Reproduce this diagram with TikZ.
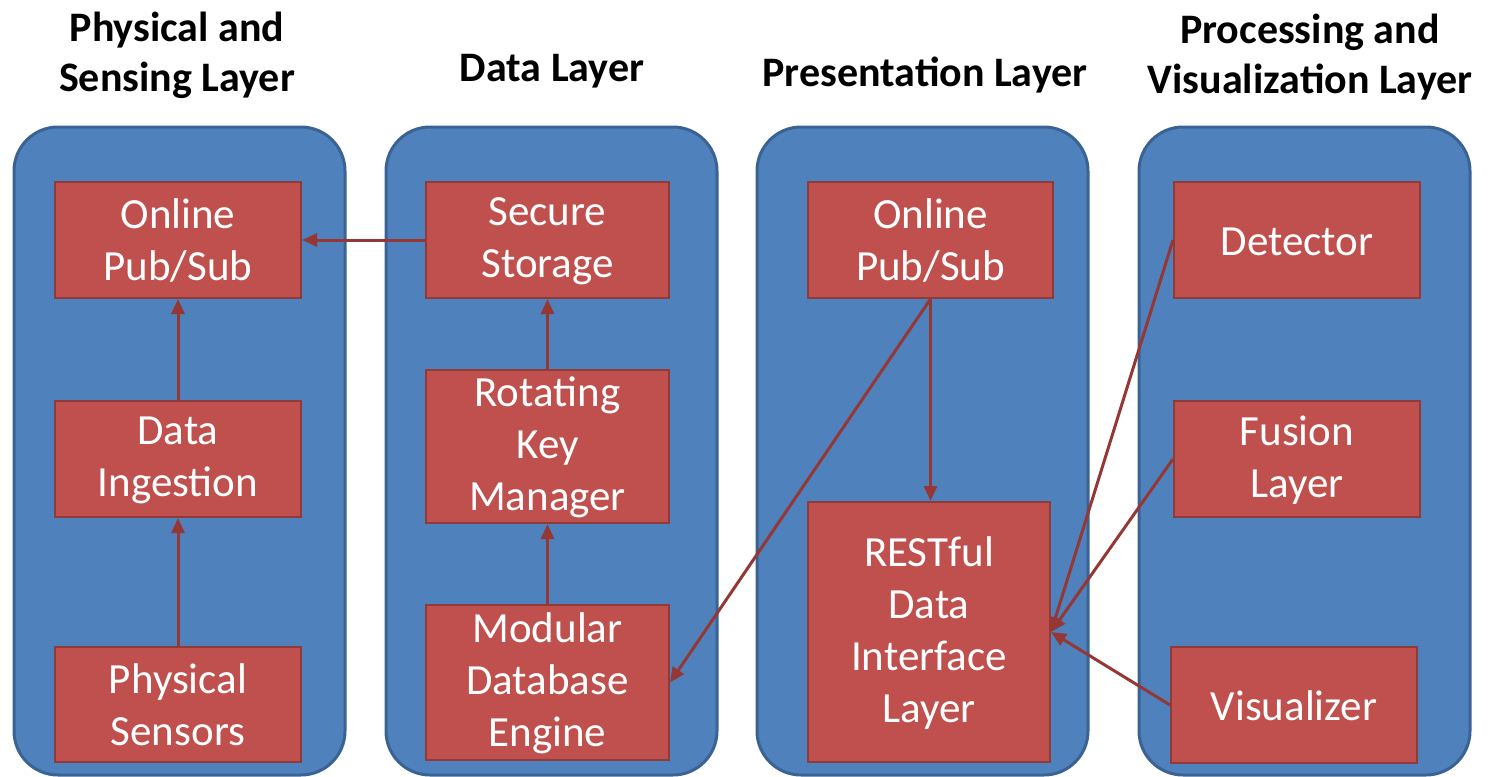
\documentclass[tikz,border=0pt]{standalone}
\usepackage{fontspec}
\setmainfont{Carlito}
\usetikzlibrary{arrows.meta}
\definecolor{colblue}{HTML}{4F81BD}
\definecolor{colblueedge}{HTML}{3A6394}
\definecolor{boxred}{HTML}{C0504D}
\definecolor{boxrededge}{HTML}{8E3B39}
\definecolor{arrowred}{HTML}{953735}
\newcommand\tallstrut{\rule{0pt}{0.72em}}
\tikzset{
  layer/.style={fill=colblue, draw=colblueedge, line width=1.5pt, rounded corners=22pt},
  comp/.style={fill=boxred, draw=boxrededge, line width=1pt, text=white, align=center,
    font=\fontsize{21.5}{26}\selectfont, inner sep=0pt},
  title/.style={align=center, font=\bfseries\fontsize{21}{25}\selectfont, inner sep=0pt},
  flow/.style={draw=arrowred, line width=1.5pt, -{Triangle[length=7.5pt,width=6.5pt]}},
}
\begin{document}
\begin{tikzpicture}[x=0.5pt,y=-0.5pt]
\useasboundingbox (0,0) rectangle (1490,777);
% layer panels
\draw[layer] (14,127) rectangle (345,775);
\draw[layer] (386,127) rectangle (717,775);
\draw[layer] (757,127) rectangle (1088,775);
\draw[layer] (1139,127) rectangle (1470,775);
% titles
\node[title] (t1) at (177,55) {Physical and\\Sensing Layer};
\node[title] (t2) at (552,71) {Data Layer};
\node[title] (t3) at (925,75) {Presentation Layer};
\node[title] (t4) at (1310,57) {Processing and\\Visualization Layer};
% components
\node[comp, minimum width=123pt, minimum height=58pt] (ps1) at (178,240) {\tallstrut Online\\Pub/Sub};
\node[comp, minimum width=123pt, minimum height=58pt] (di) at (178,459) {\tallstrut Data\\Ingestion};
\node[comp, minimum width=123pt, minimum height=57.5pt] (phs) at (178,704.5) {\tallstrut Physical\\Sensors};
\node[comp, minimum width=121.5pt, minimum height=58pt] (ss) at (547.5,240) {\tallstrut Secure\\Storage};
\node[comp, minimum width=121.5pt, minimum height=76.5pt] (rkm) at (547.5,446.5) {\tallstrut Rotating\\Key\\Manager};
\node[comp, minimum width=121.5pt, minimum height=77.5pt] (mdb) at (547.5,682.5) {\tallstrut Modular\\Database\\Engine};
\node[comp, minimum width=122.5pt, minimum height=58pt] (ps3) at (930.5,240) {\tallstrut Online\\Pub/Sub};
\node[comp, minimum width=121pt, minimum height=130pt] (rest) at (929,632) {\tallstrut RESTful\\Data\\Interface\\Layer};
\node[comp, minimum width=123pt, minimum height=58pt] (det) at (1297,240) {\tallstrut Detector};
\node[comp, minimum width=123pt, minimum height=58pt] (fus) at (1297,459) {\tallstrut Fusion\\Layer};
\node[comp, minimum width=123pt, minimum height=58pt] (vis) at (1294,705) {\tallstrut Visualizer};
% connectors
\draw[flow] (ss.west) -- (ps1.east);
\draw[flow] (di.north) -- (ps1.south);
\draw[flow] (phs.north) -- (di.south);
\draw[flow] (rkm.north) -- (ss.south);
\draw[flow] (mdb.north) -- (rkm.south);
\draw[flow] (ps3.south) -- (ps3.south |- rest.north);
\draw[flow] (ps3.south) -- (mdb.east);
\draw[flow] (det.west) -- (rest.east);
\draw[flow] (fus.west) -- (rest.east);
\draw[flow] (vis.west) -- (rest.east);
\end{tikzpicture}
\end{document}
